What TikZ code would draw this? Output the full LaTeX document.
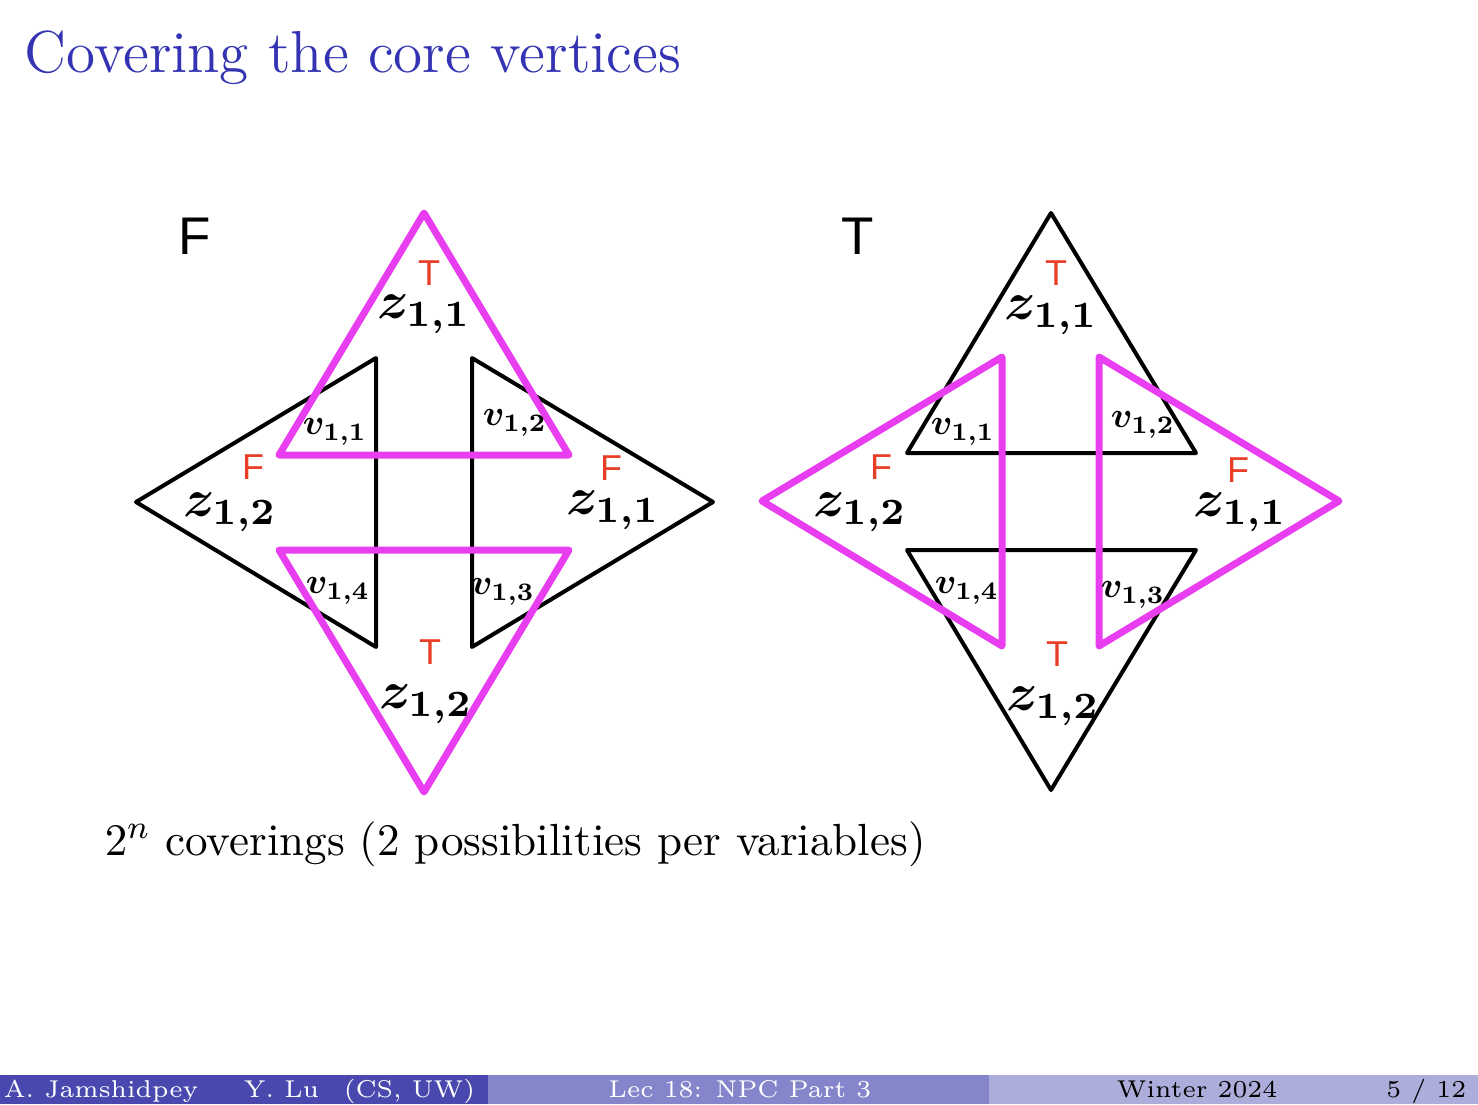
\documentclass[tikz,border=0pt]{standalone}
\usepackage{fontspec}
\newfontfamily\handfont{Liberation Sans}
\definecolor{titleblue}{RGB}{51,51,179}
\definecolor{mag}{RGB}{232,62,240}
\definecolor{hred}{RGB}{232,62,40}
\definecolor{footA}{RGB}{72,72,175}
\definecolor{footB}{RGB}{133,133,204}
\definecolor{footC}{RGB}{173,173,219}
\tikzset{
  blk/.style={draw=black,line width=4pt,line join=round,line cap=round},
  mg/.style={draw=mag,line width=7pt,line join=round,line cap=round},
  zlab/.style={inner sep=0pt,scale=5.3,font=\boldmath},
  vlab/.style={inner sep=0pt,scale=3.6,font=\boldmath},
  redlab/.style={inner sep=0pt,text=hred,font=\handfont\fontsize{36}{40}\selectfont},
  biglab/.style={inner sep=0pt,text=black,font=\handfont\fontsize{53}{56}\selectfont},
  slidetext/.style={inner sep=0pt,scale=4.115},
  foottext/.style={inner sep=0pt,scale=4.058,font=\fontsize{6}{7}\selectfont}
}
\begin{document}
\begin{tikzpicture}[x=1pt,y=-1pt]
\useasboundingbox (0,0) rectangle (1478,1104);
% title
\node[slidetext,anchor=base west,text=titleblue,font=\fontsize{14.4}{16}\selectfont] (title) at (24,72) {Covering the core vertices};
% ---------------- left figure (F) ----------------
\node[biglab] (Fbig) at (195,236) {F};
\path[blk] (376,358) -- (136,502) -- (376,647) -- cycle;
\path[blk] (472,358) -- (713,502) -- (472,647) -- cycle;
\path[mg] (424,213) -- (279,455) -- (569,455) -- cycle;
\path[mg] (279,550) -- (569,550) -- (424,792) -- cycle;
\node[redlab] (lT1) at (429,273) {T};
\node[zlab] (lz11) at (424,314) {$z_{1,1}$};
\node[redlab] (lF2) at (253,467) {F};
\node[zlab] (lz12) at (230,512) {$z_{1,2}$};
\node[redlab] (lF1) at (611,468) {F};
\node[zlab] (lz11r) at (613,510) {$z_{1,1}$};
\node[vlab] (lv11) at (335,432) {$v_{1,1}$};
\node[vlab] (lv12) at (515,423) {$v_{1,2}$};
\node[vlab] (lv14) at (338,591) {$v_{1,4}$};
\node[vlab] (lv13) at (503,592) {$v_{1,3}$};
\node[redlab] (lT2) at (430,652) {T};
\node[zlab] (lz12b) at (426,704) {$z_{1,2}$};
% ---------------- right figure (T) ----------------
\node[biglab] (Tbig) at (858,236) {T};
\path[blk] (1051,213) -- (907,453) -- (1196,453) -- cycle;
\path[blk] (907,550) -- (1196,550) -- (1051,790) -- cycle;
\path[mg] (1002,357) -- (762,501) -- (1002,646) -- cycle;
\path[mg] (1099,357) -- (1339,501) -- (1099,646) -- cycle;
\node[redlab] (rT1) at (1056,273) {T};
\node[zlab] (rz11) at (1051,315) {$z_{1,1}$};
\node[redlab] (rF2) at (881,467) {F};
\node[zlab] (rz12) at (860,512) {$z_{1,2}$};
\node[redlab] (rF1) at (1238,470) {F};
\node[zlab] (rz11r) at (1240,512) {$z_{1,1}$};
\node[vlab] (rv11) at (963,432) {$v_{1,1}$};
\node[vlab] (rv12) at (1143,425) {$v_{1,2}$};
\node[vlab] (rv14) at (967,591) {$v_{1,4}$};
\node[vlab] (rv13) at (1133,595) {$v_{1,3}$};
\node[redlab] (rT2) at (1057,654) {T};
\node[zlab] (rz12b) at (1053,706) {$z_{1,2}$};
% bottom text
\node[slidetext,anchor=base west,font=\fontsize{10.95}{13}\selectfont] (cov) at (104,855) {$2^n$ coverings (2 possibilities per variables)};
% footline
\fill[footA] (0,1075) rectangle (488,1104);
\fill[footB] (488,1075) rectangle (989,1104);
\fill[footC] (989,1075) rectangle (1478,1104);
\node[foottext,anchor=base west,text=white] (auth1) at (3,1097) {A. Jamshidpey};
\node[foottext,anchor=base west,text=white] (auth2) at (243,1097) {Y. Lu};
\node[foottext,anchor=base west,text=white] (inst) at (343,1097) {(CS, UW)};
\node[foottext,anchor=base,text=white] (lec) at (740,1097) {Lec 18: NPC Part 3};
\node[foottext,anchor=base,text=black] (date) at (1197,1097) {Winter 2024};
\node[foottext,anchor=base east,text=black] (page) at (1467,1097) {5 / 12};
\end{tikzpicture}
\end{document}
